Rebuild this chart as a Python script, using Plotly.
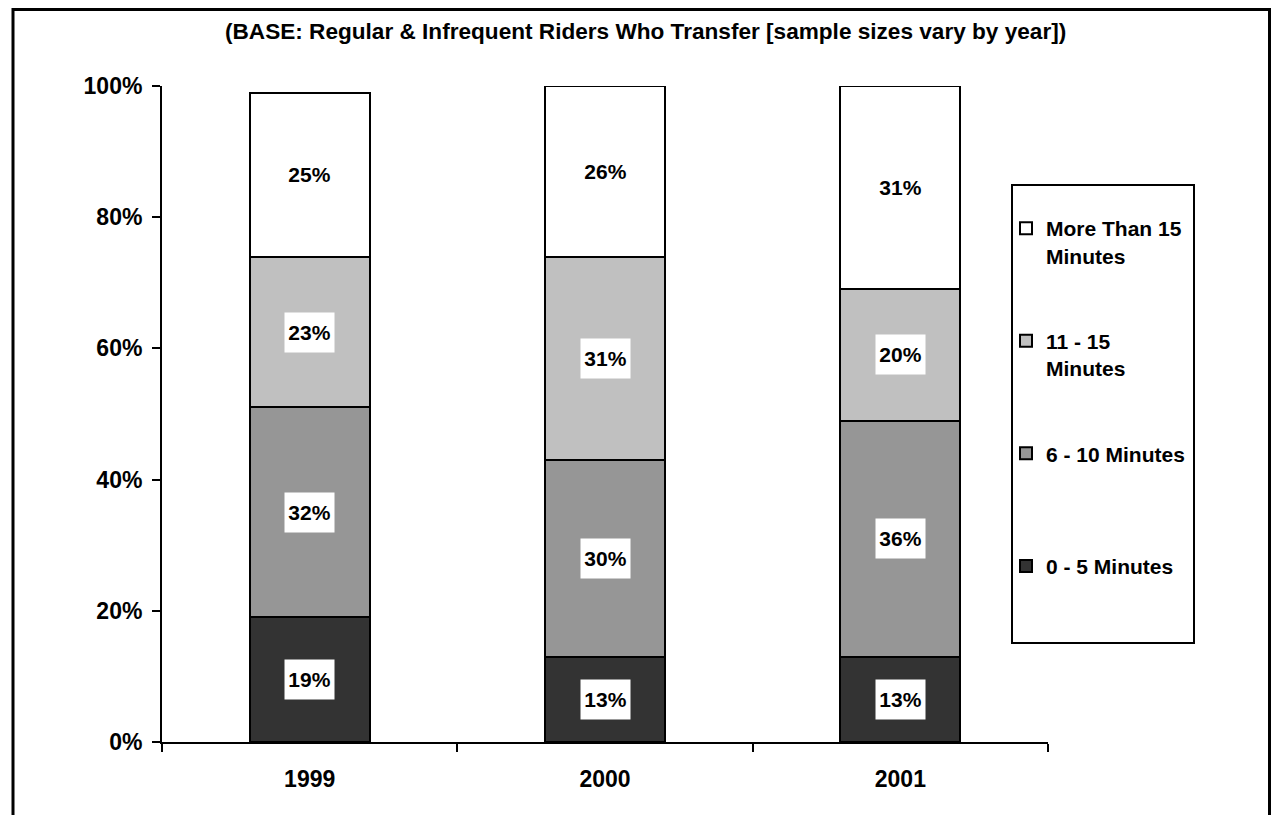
import plotly.graph_objects as go
import numpy as np

# ---------------- data ----------------
years = ["1999", "2000", "2001"]
series_names = ["0 - 5 Minutes", "6 - 10 Minutes", "11 - 15 Minutes", "More Than 15 Minutes"]
legend_labels = ["0 - 5 Minutes<br> ", "6 - 10 Minutes<br> ", "11 - 15<br>Minutes", "More Than 15<br>Minutes"]
v_0_5 = [19, 13, 13]
v_6_10 = [32, 30, 36]
v_11_15 = [23, 31, 20]
v_15_plus = [25, 26, 31]
series_values = [v_0_5, v_6_10, v_11_15, v_15_plus]
colors = ["#333333", "#969696", "#C0C0C0", "#FFFFFF"]
y_tick_vals = [0, 20, 40, 60, 80, 100]
y_tick_text = ["0%", "20%", "40%", "60%", "80%", "100%"]
title_text = "(BASE: Regular &amp; Infrequent Riders Who Transfer [sample sizes vary by year])"

# ---------------- layout geometry (page pixels; body margin removed) ----------------
W, H = 1272, 815
PL, PR, PT, PB = 162, 1048, 86, 742  # plot area edges in figure px


def px_x(p):
    return (p - PL) / (PR - PL)


def px_y(p):
    return (PB - p) / (PB - PT)


FONT = "Liberation Sans, Arial, Helvetica, sans-serif"

fig = go.Figure()
for i, (name, lab, vals, col) in enumerate(zip(series_names, legend_labels, series_values, colors)):
    fig.add_trace(go.Bar(
        x=years, y=vals, name=lab, legendgroup=str(i), legendrank=len(series_names) - i,
        marker=dict(color=col, line=dict(color="black", width=2)),
        width=0.406, hovertext=[name] * len(vals),
    ))

# data labels in white boxes
annotations = []
bottoms = np.zeros(len(years))
for vals in series_values:
    vals = np.array(vals, dtype=float)
    mids = bottoms + vals / 2
    for xi, (m, v) in enumerate(zip(mids, vals)):
        annotations.append(dict(
            x=xi, y=float(m), xref="x", yref="y", text=f"{int(v)}%", showarrow=False,
            bgcolor="white", width=47, height=37, borderpad=1,
            xanchor="center", yanchor="middle",
            font=dict(family=FONT, size=21, color="black", weight="bold"),
        ))
    bottoms = bottoms + vals

annotations.append(dict(
    x=px_x(645), y=px_y(31), xref="paper", yref="paper", text=title_text,
    showarrow=False, xanchor="center", yanchor="middle",
    font=dict(family=FONT, size=22.6, color="black", weight="bold"),
))

shapes = [
    # outer border (bottom edge lies outside the canvas)
    dict(type="rect", xref="paper", yref="paper",
         x0=px_x(13), x1=px_x(1269.5), y0=px_y(840), y1=px_y(9.5),
         line=dict(color="black", width=3), fillcolor="rgba(0,0,0,0)", layer="above"),
    # legend box
    dict(type="rect", xref="paper", yref="paper",
         x0=px_x(1012), x1=px_x(1194), y0=px_y(643), y1=px_y(185),
         line=dict(color="black", width=2), fillcolor="rgba(0,0,0,0)", layer="above"),
]

fig.update_layout(
    width=W, height=H,
    margin=dict(l=PL, r=W - PR, t=PT, b=H - PB, pad=0),
    paper_bgcolor="white", plot_bgcolor="white",
    barmode="stack",
    font=dict(family=FONT, size=21, color="black", weight="bold"),
    showlegend=True,
    legend=dict(
        x=px_x(1006), y=px_y(208), xanchor="left", yanchor="top",
        traceorder="grouped", tracegroupgap=55, valign="top",
        bgcolor="rgba(0,0,0,0)", borderwidth=0,
        font=dict(family=FONT, size=21, color="black", weight="bold"),
    ),
    annotations=annotations, shapes=shapes,
    xaxis=dict(
        type="category", range=[-0.5, 2.5], showgrid=False,
        showline=True, linecolor="black", linewidth=2,
        ticks="outside", tickson="boundaries", ticklen=8, tickwidth=2, tickcolor="black",
        ticklabelstandoff=15, zeroline=False,
        tickfont=dict(family=FONT, size=23, color="black", weight="bold"),
    ),
    yaxis=dict(
        range=[0, 100], tickvals=y_tick_vals, ticktext=y_tick_text, showgrid=False,
        showline=True, linecolor="black", linewidth=2,
        ticks="outside", ticklen=8, tickwidth=2, tickcolor="black",
        ticklabelstandoff=5, zeroline=False,
        tickfont=dict(family=FONT, size=23, color="black", weight="bold"),
    ),
)

fig.write_html(
    "out.html",
    config={"displayModeBar": False},
    post_script="document.body.style.margin='0px';document.documentElement.style.overflow='hidden';",
)
